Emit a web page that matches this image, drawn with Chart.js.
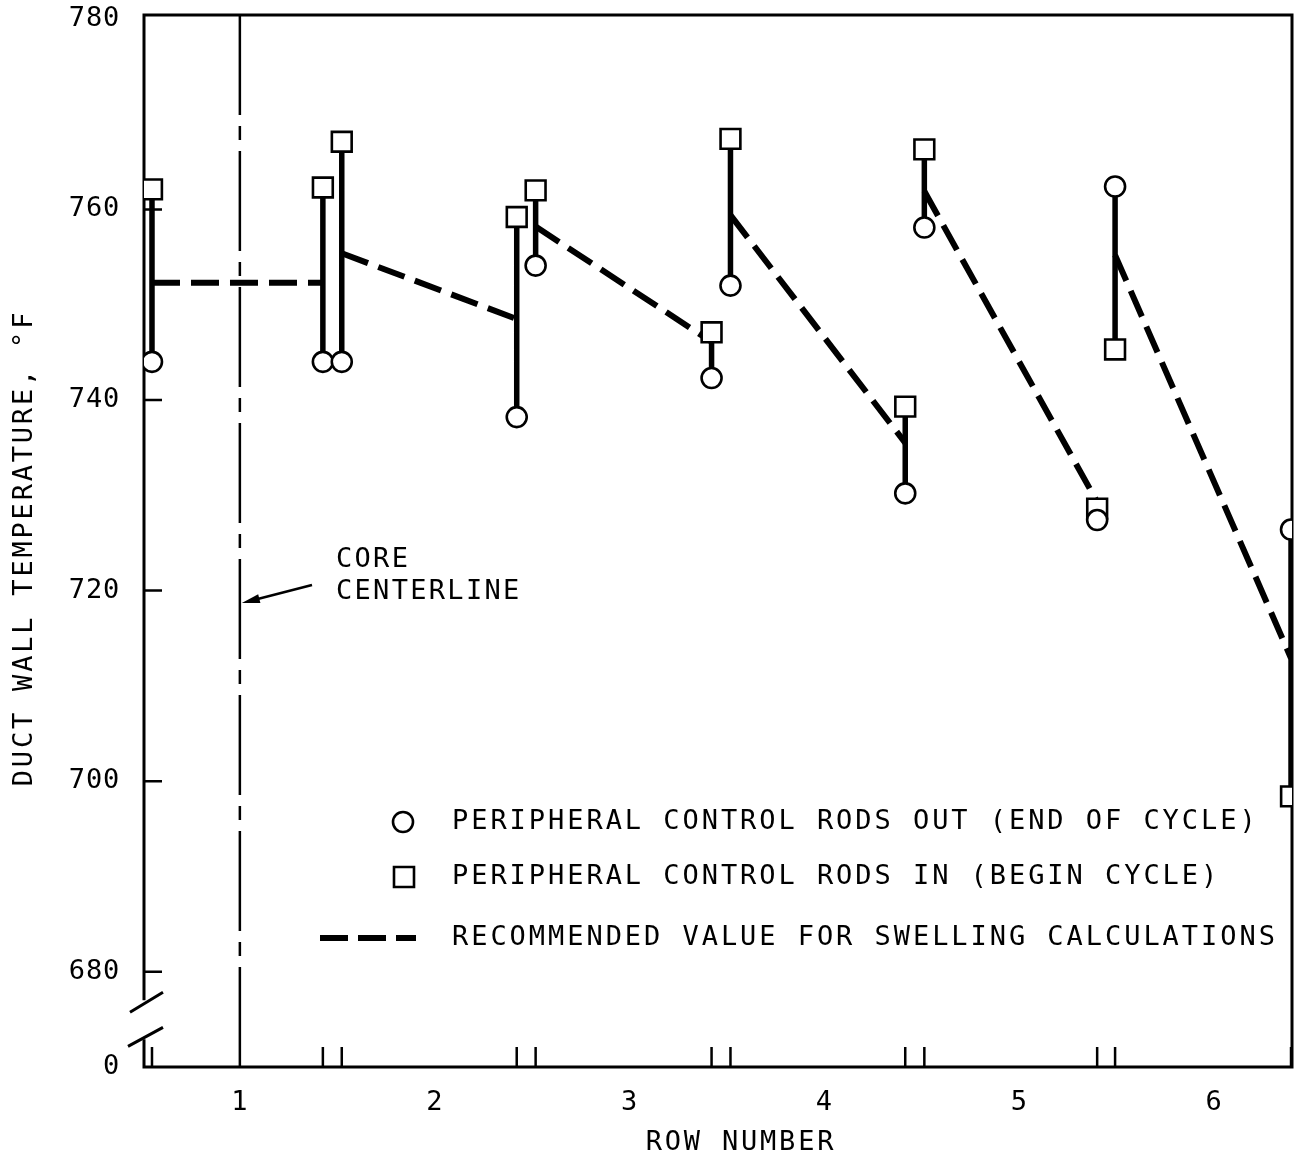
<!DOCTYPE html>
<html><head><meta charset="utf-8">
<script src="https://cdn.jsdelivr.net/npm/chart.js@4.4.1/dist/chart.umd.min.js"></script>
<style>html,body{margin:0;padding:0;background:#fff}canvas{display:block}</style>
</head><body>
<canvas id="c" width="1298" height="1164"></canvas>
<script>
// ---------------- DATA ----------------
const rowPositions = [0.549, 1.426, 1.523, 2.421, 2.518, 3.421, 3.518, 4.415, 4.513, 5.400, 5.492, 6.395];
const rodsOut      = [744.0, 744.0, 744.0, 738.2, 754.1, 742.3, 752.0, 730.2, 758.1, 727.4, 762.4, 726.4];
const rodsIn       = [762.1, 762.3, 767.1, 759.2, 762.0, 747.1, 767.4, 739.3, 766.3, 728.6, 745.3, 698.4];
const recStartX = [0.549, 1.523, 2.518, 3.518, 4.513, 5.492];
const recStartY = [752.3, 755.4, 758.2, 759.4, 761.9, 755.2];
const recEndX   = [1.426, 2.421, 3.421, 4.415, 5.400, 6.395];
const recEndY   = [752.3, 748.5, 746.1, 735.5, 729.3, 712.9];
const xTickLabels = [1, 2, 3, 4, 5, 6];
const yTickValues = [680, 700, 720, 740, 760, 780];
const yBreakValue = 670;          // bottom of broken axis, labelled "0"
const coreCenterlineRow = 1;
const legendLabels = [
  'PERIPHERAL CONTROL RODS OUT (END OF CYCLE)',
  'PERIPHERAL CONTROL RODS IN (BEGIN CYCLE)',
  'RECOMMENDED VALUE FOR SWELLING CALCULATIONS'
];
const yTitle = 'DUCT WALL TEMPERATURE, °F';
const xTitle = 'ROW NUMBER';
const noteLines = ['CORE', 'CENTERLINE'];

// ---------------- BUILD ----------------
const FONT = "'DejaVu Sans Mono', 'Liberation Mono', monospace";
const outPts = rowPositions.map((x, i) => ({x, y: rodsOut[i]}));
const inPts = rowPositions.map((x, i) => ({x, y: rodsIn[i]}));
const barPts = [];
rowPositions.forEach((x, i) => { barPts.push({x, y: rodsIn[i]}, {x, y: rodsOut[i]}, {x, y: null}); });
const recPts = [];
recStartX.forEach((x, i) => { recPts.push({x, y: recStartY[i]}, {x: recEndX[i], y: recEndY[i]}, {x: recEndX[i], y: null}); });

const deco = {
  id: 'deco',
  beforeDraw(chart) { chart.ctx.letterSpacing = '0.8px'; },
  beforeDatasetsDraw(chart) {
    const {ctx, chartArea: a, scales: {x, y}} = chart;
    ctx.save();
    ctx.strokeStyle = '#000';
    ctx.lineCap = 'butt';
    // core centerline (dash-dot)
    const cx = x.getPixelForValue(coreCenterlineRow);
    ctx.lineWidth = 2.5;
    ctx.setLineDash([100, 11, 14, 11]);
    ctx.beginPath(); ctx.moveTo(cx, a.top); ctx.lineTo(cx, a.bottom); ctx.stroke();
    ctx.setLineDash([]);
    // frame
    ctx.lineWidth = 3;
    const gTop = y.getPixelForValue(677.0), gBot = y.getPixelForValue(672.9);
    ctx.beginPath();
    ctx.moveTo(a.left, gTop); ctx.lineTo(a.left, a.top); ctx.lineTo(a.right, a.top);
    ctx.lineTo(a.right, a.bottom); ctx.lineTo(a.left, a.bottom); ctx.lineTo(a.left, gBot);
    ctx.stroke();
    // break marks
    ctx.beginPath();
    ctx.moveTo(a.left - 14, gTop + 12); ctx.lineTo(a.left + 19, gTop - 8);
    ctx.moveTo(a.left - 16, gBot + 7); ctx.lineTo(a.left + 19, gBot - 12);
    ctx.stroke();
    // y ticks (inside)
    ctx.lineWidth = 2.5;
    ctx.beginPath();
    yTickValues.forEach(v => { if (v < 780) { const py = y.getPixelForValue(v); ctx.moveTo(a.left, py); ctx.lineTo(a.left + 18, py); } });
    // x ticks at data rows (inside)
    rowPositions.forEach(v => { const px = x.getPixelForValue(v); ctx.moveTo(px, a.bottom); ctx.lineTo(px, a.bottom - 20); });
    ctx.stroke();
    ctx.restore();
  },
  afterDraw(chart) {
    const {ctx, chartArea: a, scales: {x, y}} = chart;
    ctx.save();
    ctx.fillStyle = '#000'; ctx.strokeStyle = '#000';
    ctx.font = '27px ' + FONT;
    ctx.textBaseline = 'middle';
    // axis titles
    ctx.letterSpacing = '2.8px';
    ctx.textAlign = 'center';
    ctx.fillText(xTitle, 741, 1143);
    ctx.save(); ctx.translate(25, 548); ctx.rotate(-Math.PI / 2); ctx.fillText(yTitle, 0, 0); ctx.restore();
    // core centerline note
    ctx.textAlign = 'left';
    ctx.letterSpacing = '2.3px';
    ctx.fillText(noteLines[0], 336, 560);
    ctx.fillText(noteLines[1], 336, 592);
    const cx = x.getPixelForValue(coreCenterlineRow) + 2;
    const tx = 312, ty = 585, hy = 603;
    ctx.lineWidth = 2.5;
    ctx.beginPath(); ctx.moveTo(tx, ty); ctx.lineTo(cx + 10, hy - 2.5); ctx.stroke();
    const ang = Math.atan2(hy - ty, cx - tx);
    ctx.beginPath();
    ctx.moveTo(cx, hy);
    ctx.lineTo(cx - 18 * Math.cos(ang) + 4.5 * Math.sin(ang), hy - 18 * Math.sin(ang) - 4.5 * Math.cos(ang));
    ctx.lineTo(cx - 18 * Math.cos(ang) - 4.5 * Math.sin(ang), hy - 18 * Math.sin(ang) + 4.5 * Math.cos(ang));
    ctx.closePath(); ctx.fill();
    // legend
    ctx.letterSpacing = '2.95px';
    const ly = [822, 877, 938];
    ctx.fillStyle = '#fff'; ctx.lineWidth = 2.6;
    ctx.beginPath(); ctx.arc(403, ly[0], 10, 0, Math.PI * 2); ctx.fill(); ctx.stroke();
    ctx.beginPath(); ctx.rect(394, ly[1] - 10, 20, 20); ctx.fill(); ctx.stroke();
    ctx.lineWidth = 6; ctx.setLineDash([28, 10]);
    ctx.beginPath(); ctx.moveTo(320, ly[2]); ctx.lineTo(416, ly[2]); ctx.stroke();
    ctx.setLineDash([]);
    ctx.fillStyle = '#000';
    legendLabels.forEach((t, i) => ctx.fillText(t, 452, ly[i]));
    ctx.restore();
  }
};

new Chart(document.getElementById('c'), {
  type: 'scatter',
  data: {
    datasets: [
      { label: legendLabels[0], data: outPts, pointStyle: 'circle', pointRadius: 10, pointBorderWidth: 2.6,
        pointBackgroundColor: '#fff', pointBorderColor: '#000', showLine: false, order: 0 },
      { label: legendLabels[1], data: inPts, pointStyle: 'rect', pointRadius: 14, pointBorderWidth: 2.6,
        pointBackgroundColor: '#fff', pointBorderColor: '#000', showLine: false, order: 1 },
      { label: 'bars', data: barPts, showLine: true, pointRadius: 0, borderColor: '#000', borderWidth: 5.5,
        spanGaps: false, order: 2 },
      { label: legendLabels[2], data: recPts, showLine: true, pointRadius: 0, borderColor: '#000', borderWidth: 6,
        borderDash: [28, 11], spanGaps: false, order: 3 }
    ]
  },
  options: {
    responsive: false, animation: false, devicePixelRatio: 1,
    layout: { autoPadding: false, padding: { top: 15, right: 6, left: 0, bottom: 0 } },
    plugins: { legend: { display: false }, tooltip: { enabled: false } },
    scales: {
      x: {
        type: 'linear', min: 0.508, max: 6.40,
        grid: { display: false, drawTicks: false }, border: { display: false },
        afterBuildTicks: s => { s.ticks = xTickLabels.map(v => ({value: v})); },
        ticks: { padding: 20, color: '#000', font: { family: FONT, size: 27 }, autoSkip: false, maxRotation: 0,
                 callback: v => String(v) },
        afterFit: s => { s.height = 97; s.paddingLeft = 0; s.paddingRight = 0; }
      },
      y: {
        type: 'linear', min: yBreakValue, max: 780.4,
        grid: { display: false, drawTicks: false }, border: { display: false },
        afterBuildTicks: s => { s.ticks = [yBreakValue, ...yTickValues].map(v => ({value: v})); },
        ticks: { padding: 24, color: '#000', font: { family: FONT, size: 27 }, autoSkip: false,
                 callback: v => v === yBreakValue ? '0' : String(v) },
        afterFit: s => { s.width = 144; s.paddingTop = 0; s.paddingBottom = 0; }
      }
    }
  },
  plugins: [deco]
});
</script>
</body></html>
